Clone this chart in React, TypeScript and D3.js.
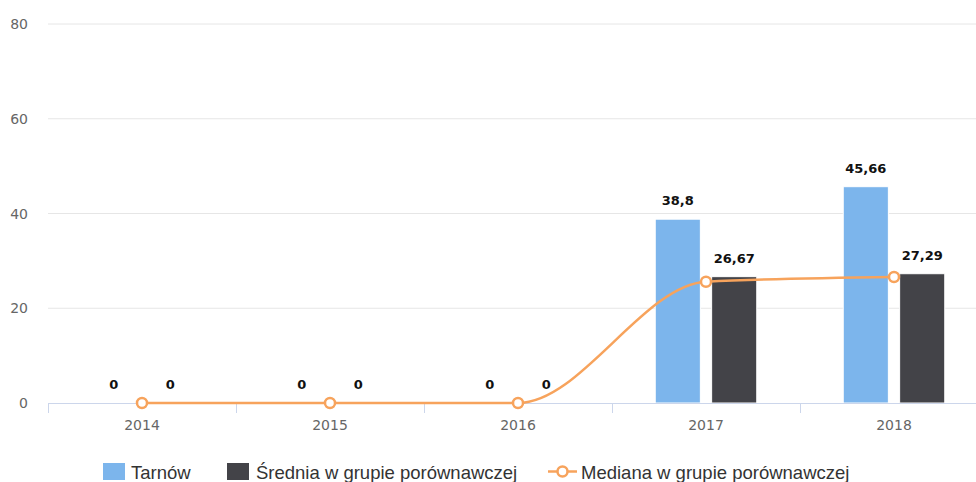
import React from 'react';
import * as d3 from 'd3';

const years = ['2014', '2015', '2016', '2017', '2018'];
const tarnow = [0, 0, 0, 38.8, 45.66];
const srednia = [0, 0, 0, 26.67, 27.29];
const mediana = [0, 0, 0, 25.6, 26.6];
const yTicks = [0, 20, 40, 60, 80];

const seriesNames = ['Tarnów', 'Średnia w grupie porównawczej', 'Mediana w grupie porównawczej'];
const colors = ['#7cb5ec', '#434348', '#f7a35c'];

const width = 976;
const height = 482;
const margin = { left: 48, right: -12, top: 24, bottom: 79 };
const font = '"DejaVu Sans", Verdana, sans-serif';
const legendFont = '"Liberation Sans", Arial, sans-serif';

const fmt = (v: number) => String(v).replace('.', ',');

const App: React.FC = () => {
    const x = d3.scaleBand<string>()
        .domain(years)
        .range([margin.left, width - margin.right]);
    const y = d3.scaleLinear().domain([0, 80]).range([height - margin.bottom, margin.top]);

    // highcharts-like grouping: groupPadding 0.2, pointPadding 0.1
    const bw = x.bandwidth();
    const slot = (bw * 0.6) / 2;
    const barX = (cat: string, i: number) => (x(cat) as number) + bw * 0.2 + i * slot + slot * 0.1;
    const barW = slot * 0.8;
    const cx = (i: number) => (x(years[i]) as number) + bw / 2;

    const line = d3.line<number>()
        .x((_, i) => cx(i))
        .y((d) => y(d))
        .curve(d3.curveMonotoneX);

    const ticksX = [...years.map((c) => x(c) as number), width - margin.right];

    return (
        <svg width={width} height={height} style={{ position: 'absolute', left: 0, top: 0, fontFamily: font }}>
            <rect width={width} height={height} fill="#fff" />
            {yTicks.map((t) => (
                <g key={t}>
                    {t > 0 && (
                        <line x1={margin.left} x2={width} y1={y(t)} y2={y(t)} stroke="#e6e6e6" strokeWidth={1} />
                    )}
                    <text x={28} y={y(t) + 5} textAnchor="end" fontSize={14} fill="#666">{t}</text>
                </g>
            ))}
            {years.map((c, ci) => (
                <g key={c}>
                    {[tarnow, srednia].map((s, si) => {
                        const bx = barX(c, si);
                        return (
                            <g key={si}>
                                <rect x={bx} y={y(s[ci])} width={barW} height={y(0) - y(s[ci])}
                                    fill={colors[si]} stroke="#fff" strokeWidth={1} />
                                <text x={bx + barW / 2} y={y(s[ci]) - 14} textAnchor="middle"
                                    fontSize={13} fontWeight="bold" fill="#111">{fmt(s[ci])}</text>
                            </g>
                        );
                    })}
                </g>
            ))}
            <line x1={margin.left} x2={width} y1={y(0) + 0.5} y2={y(0) + 0.5} stroke="#ccd6eb" />
            {ticksX.map((tx, i) => (
                <line key={i} x1={tx + 0.5} x2={tx + 0.5} y1={y(0)} y2={y(0) + 10} stroke="#ccd6eb" />
            ))}
            {years.map((c, i) => (
                <text key={c} x={cx(i)} y={y(0) + 27} textAnchor="middle" fontSize={14} fill="#666">{c}</text>
            ))}
            <path d={line(mediana) || ''} fill="none" stroke={colors[2]} strokeWidth={2.5} />
            {mediana.map((v, i) => (
                <circle key={i} cx={cx(i)} cy={y(v)} r={5}
                    fill="#fff" stroke={colors[2]} strokeWidth={2.5} />
            ))}
            <g fontSize={18.5} fill="#333" fontFamily={legendFont}>
                <rect x={103} y={463} width={22} height={17} fill={colors[0]} />
                <text x={131} y={479}>{seriesNames[0]}</text>
                <rect x={227} y={463} width={22} height={17} fill={colors[1]} />
                <text x={256} y={479}>{seriesNames[1]}</text>
                <line x1={548} x2={577} y1={471.5} y2={471.5} stroke={colors[2]} strokeWidth={2.5} />
                <circle cx={562.5} cy={471.5} r={5} fill="#fff" stroke={colors[2]} strokeWidth={2.5} />
                <text x={581} y={479}>{seriesNames[2]}</text>
            </g>
        </svg>
    );
};

export default App;
